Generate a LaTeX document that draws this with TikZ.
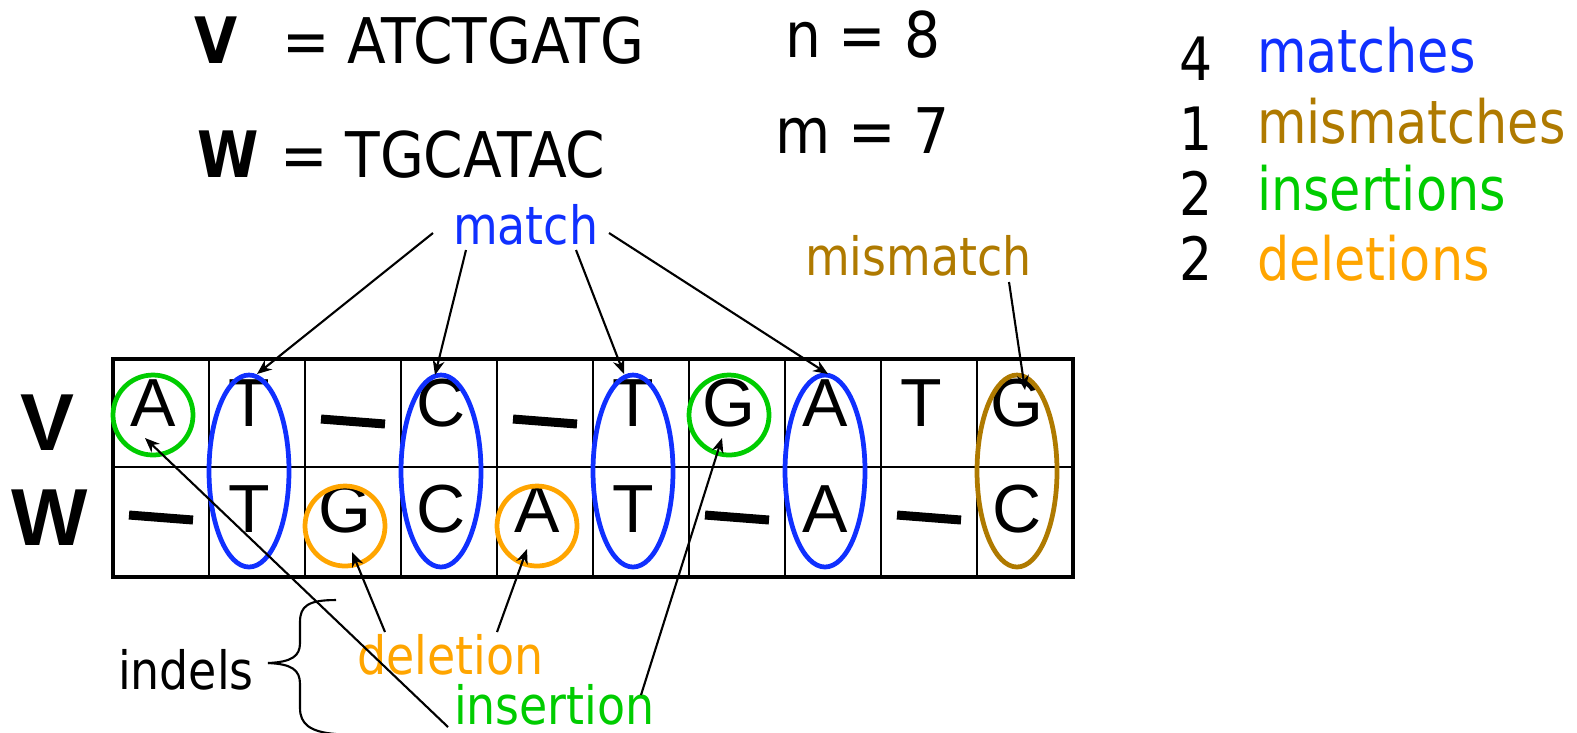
\documentclass[tikz,border=0pt]{standalone}
\usepackage{fontspec}
\setmainfont{DejaVu Sans}
\newfontfamily\arialf{Liberation Sans}
\newfontfamily\tahf{DejaVu Sans}
\usetikzlibrary{arrows.meta}
\definecolor{cblue}{RGB}{16,48,255}
\definecolor{cgreen}{RGB}{0,204,0}
\definecolor{corange}{RGB}{255,165,0}
\definecolor{cbrown}{RGB}{175,122,0}
\newcommand{\tahx}[1]{\scalebox{0.87}[1]{#1}}
\newcommand{\tahy}[1]{\scalebox{0.9}[1]{#1}}
\newcommand{\tahz}[1]{\scalebox{0.85}[1]{#1}}
\tikzset{
  txt/.style={inner sep=0pt, outer sep=0pt, anchor=base west},
  cellL/.style={inner sep=0pt, anchor=base, font=\arialf\fontsize{19.35pt}{20pt}\selectfont},
  bigL/.style={inner sep=0pt, anchor=base, font=\arialf\bfseries\fontsize{23pt}{24pt}\selectfont},
  topT/.style={txt, font=\tahf\fontsize{17.9pt}{19pt}\selectfont},
  listT/.style={txt, font=\tahf\fontsize{17pt}{18pt}\selectfont},
  labT/.style={txt, font=\tahf\fontsize{15pt}{16pt}\selectfont},
  gapbar/.style={line width=2.56pt},
  ring/.style={line width=1.35pt},
  arr/.style={line width=0.6pt, -{Stealth[length=4.2pt,width=3.4pt]}},
}
\begin{document}
\begin{tikzpicture}[x=0.01cm,y=-0.01cm]
\useasboundingbox (0,0) rectangle (1577,732);
% top definitions
\node[topT, font=\tahf\bfseries\fontsize{18.2pt}{19pt}\selectfont] (tV) at (194,63) {\tahx{V}};
\node[topT] (tVs) at (282,63) {\tahy{= ATCTGATG}};
\node[topT, font=\tahf\bfseries\fontsize{18.2pt}{19pt}\selectfont] (tW) at (197,177) {\tahx{W}};
\node[topT] (tWs) at (280,177) {\tahy{= TGCATAC}};
\node[topT] (tn) at (785,57) {\tahy{n = 8}};
\node[topT] (tm) at (775,153) {\tahy{m = 7}};
% right list
\node[listT, anchor=base] (d1) at (1196,80) {\tahx{4}};
\node[listT, anchor=base] (d2) at (1196,150) {\tahx{1}};
\node[listT, anchor=base] (d3) at (1196,215) {\tahx{2}};
\node[listT, anchor=base] (d4) at (1196,280) {\tahx{2}};
\node[listT, text=cblue] (l1) at (1257,72) {\tahz{matches}};
\node[listT, text=cbrown] (l2) at (1257,143) {\tahz{mismatches}};
\node[listT, text=cgreen] (l3) at (1257,210) {\tahz{insertions}};
\node[listT, text=corange] (l4) at (1257,280) {\tahz{deletions}};
% table
\draw[line width=0.6pt] (113,467) -- (1073,467);
\foreach \k in {1,...,9} { \draw[line width=0.6pt] (113+96*\k,359) -- (113+96*\k,577); }
\draw[line width=1.2pt] (113,359) rectangle (1073,577);
\node[bigL] (rowV) at (47,450) {V};
\node[bigL] (rowW) at (50,545) {W};
\foreach \k/\l in {1/A,2/T,4/C,6/T,7/G,8/A,9/T,10/G} { \node[cellL] (v\k) at (57+96*\k,426) {\l}; }
\foreach \k/\l in {2/T,3/G,4/C,5/A,6/T,8/A,10/C} { \node[cellL] (w\k) at (57+96*\k,532) {\l}; }
\foreach \c in {353,545} { \draw[gapbar] (\c-32,419) -- (\c+32,424); }
\foreach \c in {161,737,929} { \draw[gapbar] (\c-32,515) -- (\c+32,520); }
% rings
\draw[ring, cgreen] (153,415) circle [radius=40];
\draw[ring, cgreen] (729,415) circle [radius=40];
\draw[ring, corange] (345,526) circle [radius=40];
\draw[ring, corange] (537,526) circle [radius=40];
\foreach \x in {249,441,633,825} { \draw[ring, cblue] (\x,471) ellipse [x radius=40, y radius=96]; }
\draw[ring, cbrown] (1017,471) ellipse [x radius=40, y radius=96];
% labels
\node[labT, text=cblue] (match) at (453,244) {\tahx{match}};
\node[labT, text=cbrown] (mismatch) at (805,275) {\tahx{mismatch}};
\node[labT, text=corange] (deletion) at (357,674) {\tahx{deletion}};
\node[labT, text=cgreen] (insertion) at (454,724) {\tahx{insertion}};
\node[labT] (indels) at (118,689) {\tahx{indels}};
% arrow coordinates
\coordinate (m1s) at (433,233); \coordinate (m1t) at (257,374);
\coordinate (m2s) at (466,250); \coordinate (m2t) at (435,375);
\coordinate (m3s) at (576,250); \coordinate (m3t) at (624,374);
\coordinate (m4s) at (609,233); \coordinate (m4t) at (828,374);
\coordinate (mms) at (1009,282); \coordinate (mmt) at (1025,390);
\coordinate (d1s) at (385,632); \coordinate (d1t) at (352,552);
\coordinate (d2s) at (497,632); \coordinate (d2t) at (527,549);
\coordinate (i1s) at (641,695); \coordinate (i1t) at (722,438);
\coordinate (i2s) at (448,727); \coordinate (i2t) at (145,438);
\draw[arr] (m1s) -- (m1t);
\draw[arr] (m2s) -- (m2t);
\draw[arr] (m3s) -- (m3t);
\draw[arr] (m4s) -- (m4t);
\draw[arr] (mms) -- (mmt);
\draw[arr] (d1s) -- (d1t);
\draw[arr] (d2s) -- (d2t);
\draw[arr] (i1s) -- (i1t);
\draw[arr] (i2s) -- (i2t);
% brace
\coordinate (bt) at (336,600); \coordinate (bm) at (268,663); \coordinate (bb) at (336,734);
\draw[line width=0.6pt] (bt) .. controls (308,600) and (300,606) .. (300,622) -- (300,643) .. controls (300,656) and (292,662) .. (bm);
\draw[line width=0.6pt] (bm) .. controls (292,664) and (300,670) .. (300,684) -- (300,708) .. controls (300,724) and (310,732) .. (bb);
\end{tikzpicture}
\end{document}
